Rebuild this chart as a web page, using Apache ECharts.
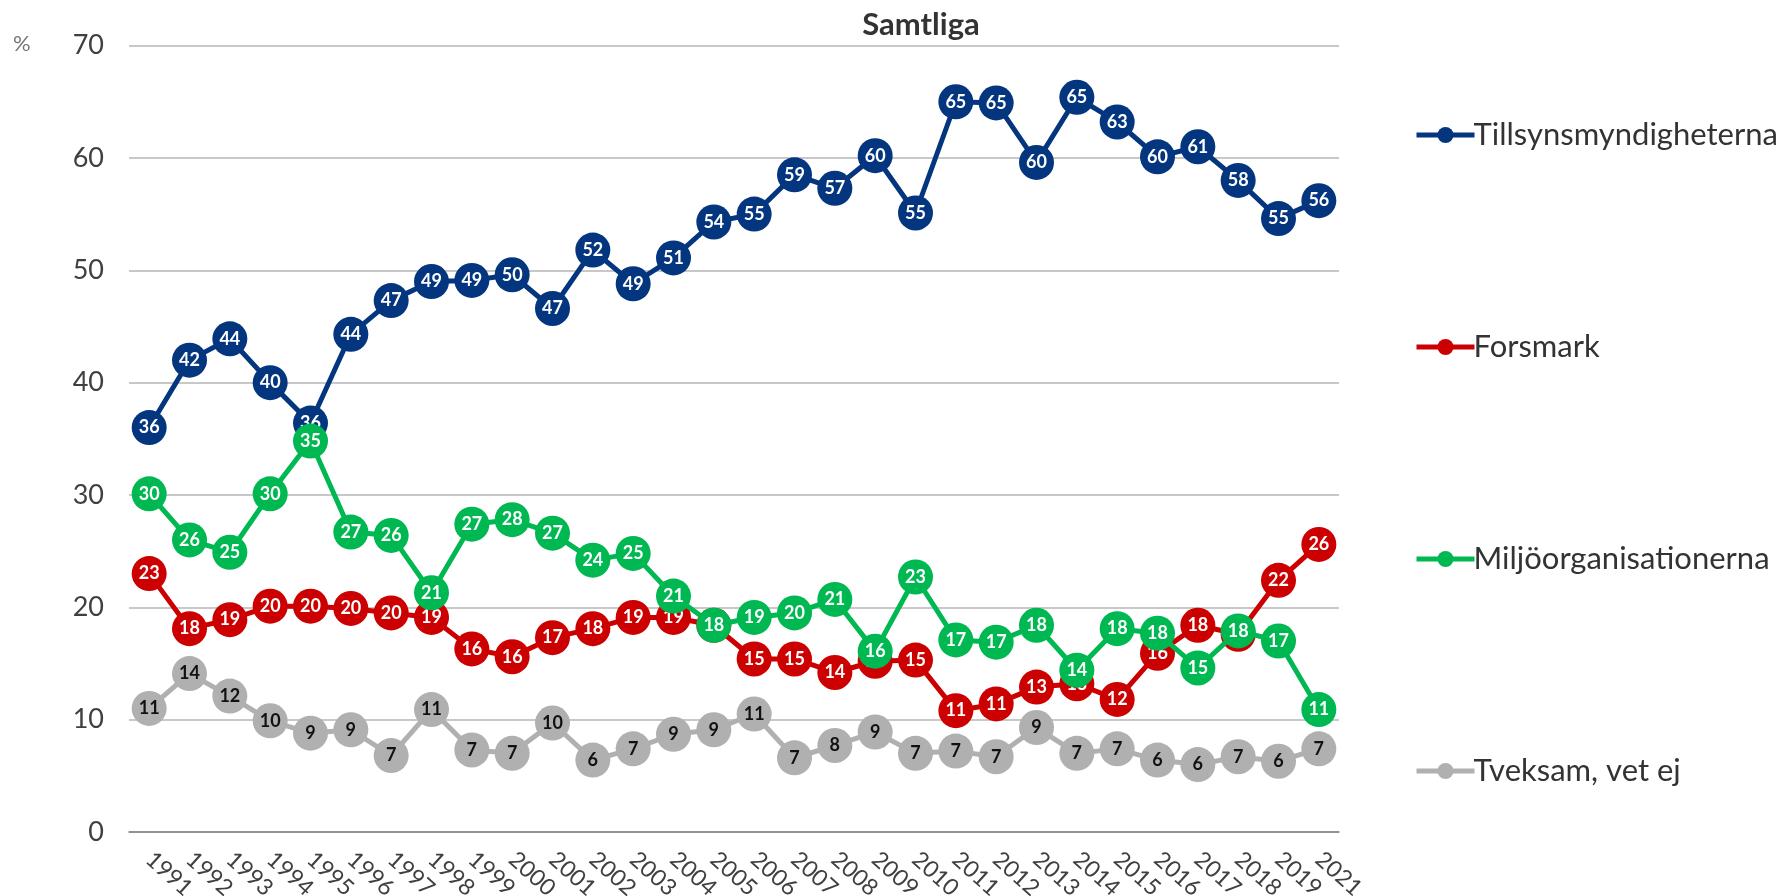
<!DOCTYPE html>
<html>
<head>
<meta charset="utf-8">
<script src="https://cdn.jsdelivr.net/npm/echarts@6/dist/echarts.min.js"></script>
<style>
html,body{margin:0;padding:0;background:#fff;}
#chart{width:1787px;height:896px;}
</style>
</head>
<body>
<div id="chart"></div>
<script>
const years = ['1991','1992','1993','1994','1995','1996','1997','1998','1999','2000','2001','2002','2003','2004','2005','2006','2007','2008','2009','2010','2011','2012','2013','2014','2015','2016','2017','2018','2019','2021'];
const tillsyn = [36.0,42.0,43.9,40.0,36.4,44.3,47.3,49.0,49.1,49.6,46.6,51.8,48.8,51.1,54.3,55.0,58.5,57.3,60.2,55.1,65.0,64.9,59.6,65.4,63.2,60.1,61.0,58.0,54.6,56.2];
const forsmark = [23.0,18.1,18.9,20.1,20.1,19.9,19.5,19.1,16.3,15.6,17.3,18.1,19.1,19.1,18.4,15.4,15.4,14.2,15.2,15.3,10.8,11.4,12.9,13.2,11.8,15.9,18.4,17.6,22.4,25.6];
const miljo = [30.1,26.0,24.9,30.1,34.8,26.7,26.4,21.3,27.4,27.8,26.6,24.2,24.8,21.0,18.4,19.1,19.5,20.7,16.1,22.7,17.1,16.9,18.4,14.4,18.1,17.7,14.6,17.9,17.0,10.9];
const tveksam = [11.0,14.1,12.1,9.9,8.8,9.1,6.8,10.9,7.3,7.0,9.7,6.4,7.4,8.7,9.1,10.5,6.6,7.7,8.9,7.0,7.2,6.7,9.3,7.0,7.4,6.4,6.0,6.7,6.3,7.4];
const seriesNames = ['Tillsynsmyndigheterna','Forsmark','Miljöorganisationerna','Tveksam, vet ej'];
const yTicks = [0,10,20,30,40,50,60,70];

const FONT = 'Lato, "Open Sans", sans-serif';
const colors = ['#04357f','#cc0000','#00b852','#b0b0b0'];
const labelColors = ['#ffffff','#ffffff','#ffffff','#111111'];
const zs = [3,2,4,1];

function mk(i, data){
  return {
    name: seriesNames[i],
    type: 'line',
    data: data,
    z: zs[i],
    symbol: 'circle',
    symbolSize: 35,
    lineStyle: {width: 5, color: colors[i]},
    itemStyle: {color: colors[i]},
    label: {
      show: true,
      position: 'inside',
      color: labelColors[i],
      fontFamily: FONT,
      fontWeight: 'bold',
      fontSize: 18,
      formatter: p => Math.round(p.value)
    },
    emphasis: {disabled: true},
    animation: false
  };
}

const chart = echarts.init(document.getElementById('chart'));
chart.setOption({
  backgroundColor: '#ffffff',
  animation: false,
  title: {
    text: 'Samtliga',
    left: 916,
    top: 4,
    textAlign: 'center',
    textStyle: {fontFamily: FONT, fontWeight: 'bold', fontSize: 31, color: '#333333'}
  },
  graphic: [{
    type: 'text', left: 13, top: 33,
    style: {text: '%', fontFamily: FONT, fontSize: 22, fill: '#777777'}
  }],
  legend: {
    orient: 'vertical',
    left: 1409,
    top: 114,
    itemWidth: 58,
    itemHeight: 20,
    itemGap: 180,
    lineStyle: {width: 5},
    itemStyle: {borderWidth: 0},
    textStyle: {fontFamily: FONT, fontSize: 31, color: '#333333', lineHeight: 32, padding: [0,0,0,-6]},
    data: seriesNames
  },
  grid: {left: 129, right: 448, top: 45.6, bottom: 64, containLabel: false, outerBoundsMode: 'none'},
  xAxis: {
    type: 'category',
    data: years,
    boundaryGap: true,
    axisTick: {show: false},
    axisLine: {lineStyle: {color: '#808080', width: 1.5}},
    axisLabel: {interval: 0, rotate: -42, margin: 24, fontFamily: FONT, fontSize: 23, color: '#404040'}
  },
  yAxis: {
    type: 'value',
    min: yTicks[0], max: yTicks[yTicks.length-1], interval: 10,
    axisLine: {show: false},
    axisTick: {show: false},
    splitLine: {lineStyle: {color: '#c8c8c8', width: 2}},
    axisLabel: {margin: 25, fontFamily: FONT, fontSize: 27, color: '#404040'}
  },
  series: [mk(0,tillsyn), mk(1,forsmark), mk(2,miljo), mk(3,tveksam)]
});
</script>
</body>
</html>
